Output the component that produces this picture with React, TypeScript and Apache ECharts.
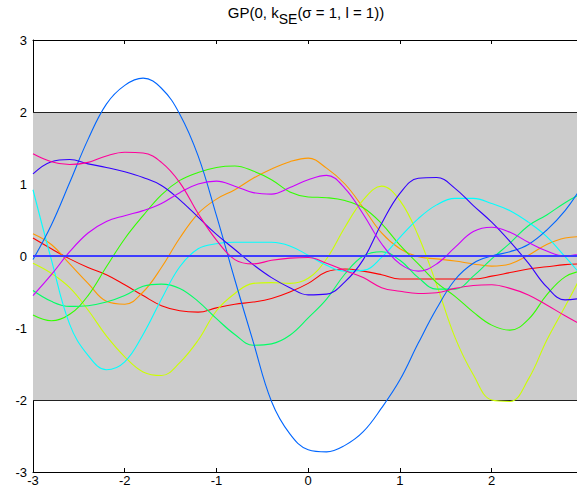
import React, { useEffect, useRef } from "react";
import * as echarts from "echarts";

// Shared x positions (sample inputs)
const xs = [
  -3.0, -2.8, -2.6, -2.4, -2.2, -2.0, -1.8, -1.6, -1.4, -1.2, -1.0, -0.8, -0.6, -0.4, -0.2,
  0.0, 0.2, 0.4, 0.6, 0.8, 1.0, 1.2, 1.4, 1.6, 1.8, 2.0, 2.2, 2.4, 2.6, 2.8, 3.0,
];

// Ten GP samples
const redY = [0.25, 0.10, -0.04, -0.16, -0.26, -0.40, -0.55, -0.69, -0.76, -0.78, -0.72, -0.67, -0.64, -0.59, -0.50, -0.38, -0.22, -0.18, -0.21, -0.26, -0.32, -0.32, -0.32, -0.32, -0.32, -0.28, -0.23, -0.18, -0.15, -0.12, -0.11];
const orangeY = [0.31, 0.16, -0.11, -0.38, -0.63, -0.67, -0.50, -0.16, 0.25, 0.59, 0.79, 0.92, 1.08, 1.21, 1.31, 1.36, 1.22, 1.00, 0.67, 0.32, 0.10, -0.01, -0.04, -0.07, -0.11, -0.14, -0.11, 0.01, 0.16, 0.25, 0.27];
const yellowY = [-0.10, -0.24, -0.44, -0.75, -1.11, -1.40, -1.61, -1.66, -1.48, -1.17, -0.76, -0.52, -0.38, -0.37, -0.38, -0.31, -0.04, 0.40, 0.78, 0.97, 0.77, 0.28, -0.40, -1.13, -1.65, -2.00, -2.02, -1.71, -1.17, -0.70, -0.22];
const limeY = [-0.82, -0.90, -0.81, -0.55, -0.15, 0.24, 0.56, 0.85, 1.05, 1.16, 1.23, 1.25, 1.18, 1.06, 0.89, 0.82, 0.81, 0.77, 0.67, 0.45, 0.15, -0.11, -0.37, -0.56, -0.78, -0.96, -1.03, -0.88, -0.54, -0.29, -0.20];
const springY = [-0.48, -0.63, -0.70, -0.69, -0.64, -0.55, -0.42, -0.39, -0.45, -0.63, -0.87, -1.09, -1.24, -1.22, -1.10, -0.86, -0.60, -0.25, 0.00, 0.06, -0.06, -0.30, -0.46, -0.46, -0.28, -0.04, 0.18, 0.42, 0.57, 0.74, 0.88];
const cyanY = [0.92, -0.05, -0.95, -1.38, -1.58, -1.47, -1.09, -0.60, -0.15, 0.10, 0.17, 0.19, 0.19, 0.19, 0.14, 0.01, -0.13, -0.21, -0.20, -0.02, 0.26, 0.52, 0.71, 0.80, 0.80, 0.73, 0.63, 0.47, 0.27, -0.01, -0.30];
const azureY = [-0.05, 0.43, 1.02, 1.62, 2.11, 2.37, 2.47, 2.33, 1.97, 1.39, 0.56, -0.33, -1.19, -2.02, -2.47, -2.69, -2.72, -2.63, -2.44, -2.11, -1.72, -1.21, -0.73, -0.33, -0.10, 0.00, 0.06, 0.16, 0.36, 0.63, 1.00];
const violetY = [1.14, 1.31, 1.34, 1.28, 1.23, 1.17, 1.09, 0.98, 0.78, 0.54, 0.30, 0.09, -0.12, -0.30, -0.44, -0.54, -0.53, -0.36, -0.05, 0.45, 0.87, 1.08, 1.09, 0.94, 0.70, 0.47, 0.20, -0.10, -0.43, -0.61, -0.58];
const magentaY = [-0.55, -0.26, 0.06, 0.32, 0.48, 0.56, 0.63, 0.73, 0.88, 1.00, 1.04, 0.97, 0.88, 0.86, 0.95, 1.06, 1.12, 0.94, 0.58, 0.17, -0.11, -0.21, -0.11, 0.12, 0.34, 0.40, 0.33, 0.19, 0.07, 0.00, 0.04];
const pinkY = [1.42, 1.31, 1.27, 1.30, 1.39, 1.44, 1.43, 1.30, 1.02, 0.59, 0.22, -0.05, -0.11, -0.06, -0.03, -0.02, -0.10, -0.20, -0.30, -0.44, -0.49, -0.52, -0.51, -0.45, -0.41, -0.40, -0.45, -0.54, -0.68, -0.83, -0.97];

const samples = [redY, orangeY, yellowY, limeY, springY, cyanY, azureY, violetY, magentaY, pinkY];
const sampleColors = ["#ff0000", "#ff9900", "#ccff00", "#33ff00", "#00ff66", "#00ffff", "#0066ff", "#3300ff", "#cc00ff", "#ff0099"];

// Mean and the +/- 2 sigma band
const meanX = [-3, 3];
const meanY = [0, 0];
const bandTop = 2;
const bandBottom = -2;

const xTicks = [-3, -2, -1, 0, 1, 2];
const FONT = "'Liberation Sans', Arial, Helvetica, sans-serif";

export default function App() {
  const ref = useRef<HTMLDivElement>(null);

  useEffect(() => {
    if (!ref.current) return;
    const chart = echarts.init(ref.current, undefined, { renderer: "svg" });

    const sampleSeries = samples.map((ys, k) => ({
      type: "line",
      data: xs.map((x, i) => [x, ys[i]]),
      smooth: 0.4,
      showSymbol: false,
      symbol: "none",
      lineStyle: { color: sampleColors[k], width: 1.1 },
      z: 3,
      silent: true,
    }));

    const option = {
      animation: false,
      backgroundColor: "#ffffff",
      grid: { left: 33, right: 0, top: 40, bottom: 24, containLabel: false },
      graphic: [
        {
          type: "text",
          x: 306,
          y: 5,
          style: {
            text: "{a|GP(0, k}{b|SE}{a|(σ = 1, l = 1))}",
            align: "center",
            verticalAlign: "top",
            fill: "#000",
            rich: {
              a: { fontSize: 15, fontFamily: FONT, lineHeight: 17, verticalAlign: "top", fill: "#000" },
              b: { fontSize: 14, fontFamily: FONT, lineHeight: 21, verticalAlign: "bottom", fill: "#000" },
            },
          },
        },
      ],
      xAxis: [
        {
          type: "value",
          min: -3,
          max: 2.93,
          interval: 1,
          position: "bottom",
          axisLine: { show: true, onZero: false, lineStyle: { color: "#000", width: 1 } },
          axisTick: { show: true, inside: true, length: 4, lineStyle: { color: "#000" } },
          axisLabel: {
            show: true,
            showMaxLabel: false,
            margin: 2,
            fontSize: 13,
            fontFamily: FONT,
            color: "#000",
            formatter: (v: number) => (xTicks.indexOf(v) >= 0 ? String(v) : ""),
          },
          splitLine: { show: false },
        },
        {
          type: "value",
          min: -3,
          max: 2.93,
          interval: 1,
          position: "top",
          axisLine: { show: true, onZero: false, lineStyle: { color: "#000", width: 1 } },
          axisTick: { show: true, inside: true, length: 4, lineStyle: { color: "#000" } },
          axisLabel: { show: false },
          splitLine: { show: false },
        },
      ],
      yAxis: {
        type: "value",
        min: -3,
        max: 3,
        interval: 1,
        axisLine: { show: true, onZero: false, lineStyle: { color: "#000", width: 1 } },
        axisTick: { show: true, inside: true, length: 4, lineStyle: { color: "#000" } },
        axisLabel: { margin: 6, fontSize: 13, fontFamily: FONT, color: "#000" },
        splitLine: { show: false },
      },
      series: [
        {
          type: "line",
          data: [],
          z: 1,
          silent: true,
          markArea: {
            silent: true,
            z: 1,
            itemStyle: { color: "#cccccc", borderWidth: 0 },
            data: [[{ yAxis: bandTop }, { yAxis: bandBottom }]],
          },
          markLine: {
            silent: true,
            z: 1,
            symbol: ["none", "none"],
            label: { show: false },
            lineStyle: { color: "#222", width: 1, type: "solid" },
            data: [{ yAxis: bandTop }, { yAxis: bandBottom }],
          },
        },
        ...sampleSeries,
        {
          type: "line",
          data: meanX.map((x, i) => [x, meanY[i]]),
          showSymbol: false,
          symbol: "none",
          lineStyle: { color: "#3d3dff", width: 2 },
          z: 4,
          silent: true,
        },
      ],
    };

    chart.setOption(option as any);
    return () => chart.dispose();
  }, []);

  return (
    <div
      ref={ref}
      style={{ position: "fixed", left: 0, top: 0, width: 577, height: 496, background: "#fff" }}
    />
  );
}
